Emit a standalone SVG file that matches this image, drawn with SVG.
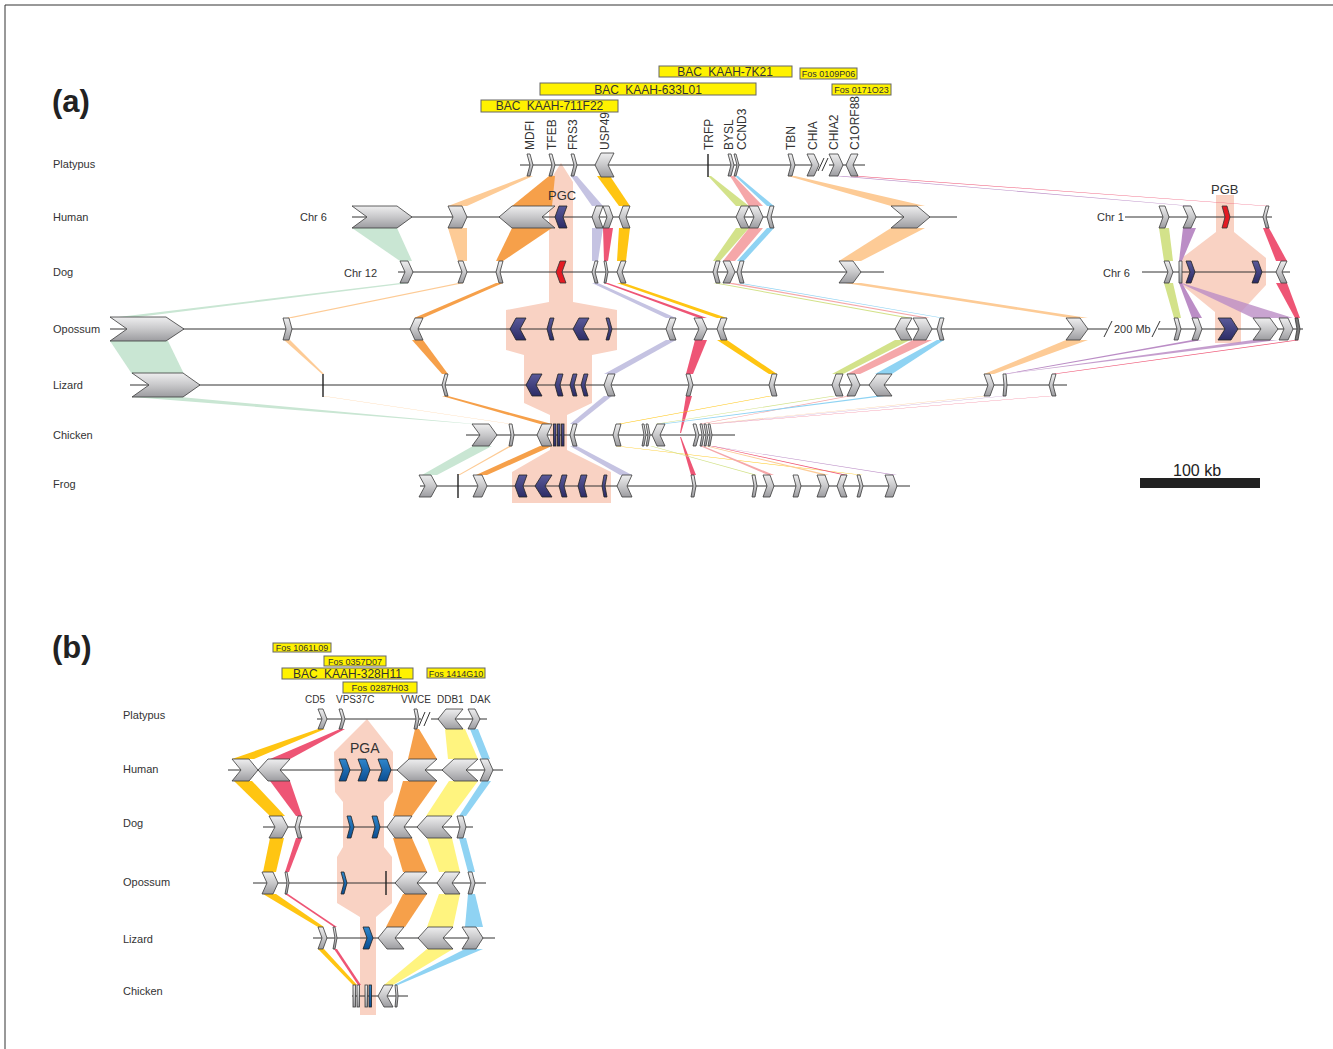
<svg xmlns="http://www.w3.org/2000/svg" width="1333" height="1049" viewBox="0 0 1333 1049">
<defs>
<linearGradient id="gg" x1="0" y1="0" x2="0" y2="1"><stop offset="0" stop-color="#EEEEEF"/><stop offset="0.5" stop-color="#C8C8CA"/><stop offset="1" stop-color="#9C9CA0"/></linearGradient>
<linearGradient id="gn" x1="0" y1="0" x2="0" y2="1"><stop offset="0" stop-color="#5A5A9A"/><stop offset="1" stop-color="#2C2C66"/></linearGradient>
<linearGradient id="gb" x1="0" y1="0" x2="0" y2="1"><stop offset="0" stop-color="#2F86CC"/><stop offset="1" stop-color="#0B4E92"/></linearGradient>
<style>
text{font-family:"Liberation Sans",Arial,sans-serif;fill:#333}
.g{fill:url(#gg);stroke:#3a3a3a;stroke-width:0.8}
.n{fill:url(#gn);stroke:#222;stroke-width:0.8}
.b{fill:url(#gb);stroke:#222;stroke-width:0.8}
.r{fill:#E31B23;stroke:#333;stroke-width:0.8}
.dk{fill:#777;stroke:#333;stroke-width:0.8}
.ln{stroke:#333;stroke-width:1;fill:none}
.tk{stroke:#222;stroke-width:1.4}
.bac{fill:#FFF200;stroke:#666;stroke-width:1}
.bt{font-size:12px;word-spacing:3px}
.ft{font-size:9px}
.sp{font-size:11px}
.gl{font-size:12px}
.pk{fill:#F9D2C3}
.peach{fill:#FDCB96}.orange{fill:#F6A04A}.mint{fill:#C9E6D3}.lav{fill:#C5C3E2}.crim{fill:#EE5575}.gold{fill:#FFC512}.lime{fill:#D3E28A}.pink{fill:#F5A7A9}.sky{fill:#8FD3F3}.purp{fill:#BB8DC6}.yel{fill:#FFF47F}
</style>
</defs>
<rect width="1333" height="1049" fill="#fff"/>
<path d="M5,1049 V5 H1333" class="ln"/>

<g id="regions-a">
<polygon class="pk" points="561,163 573,182 573,302 617,310 617,350 592,355 592,403 567,415 567,450 611,472 611,503 512,503 512,472 550,450 550,415 524,403 524,355 506,350 506,310 549,302 549,182"/>
<polygon class="pk" points="1216,195 1234,195 1234,232 1266,258 1266,285 1241,312 1241,343 1215,343 1215,312 1182,285 1182,258 1216,232"/>
</g>

<g id="panel-a-labels">
<text x="52" y="112" style="font-size:31px;font-weight:bold;fill:#222">(a)</text>
<text class="sp" x="53" y="168">Platypus</text>
<text class="sp" x="53" y="221">Human</text>
<text class="sp" x="53" y="276">Dog</text>
<text class="sp" x="53" y="333">Opossum</text>
<text class="sp" x="53" y="389">Lizard</text>
<text class="sp" x="53" y="439">Chicken</text>
<text class="sp" x="53" y="488">Frog</text>
<text class="sp" x="300" y="221">Chr 6</text>
<text class="sp" x="344" y="277">Chr 12</text>
<text class="sp" x="1097" y="221">Chr 1</text>
<text class="sp" x="1103" y="277">Chr 6</text>
</g>

<g id="bacs-a">
<rect class="bac" x="659" y="66" width="133" height="11"/><text class="bt" x="725" y="76" text-anchor="middle">BAC KAAH-7K21</text>
<rect class="bac" x="800" y="68" width="57" height="11"/><text class="ft" x="828.5" y="77" text-anchor="middle">Fos 0109P06</text>
<rect class="bac" x="540" y="83" width="216" height="12"/><text class="bt" x="648" y="94" text-anchor="middle">BAC KAAH-633L01</text>
<rect class="bac" x="832" y="84" width="59" height="11"/><text class="ft" x="861.5" y="93" text-anchor="middle">Fos 0171O23</text>
<rect class="bac" x="481" y="100" width="137" height="12"/><text class="bt" x="549.5" y="110" text-anchor="middle">BAC KAAH-711F22</text>
</g>

<g id="genelabels-a" class="gl">
<text class="gl" transform="translate(534,150) rotate(-90)">MDFI</text>
<text class="gl" transform="translate(556,150) rotate(-90)">TFEB</text>
<text class="gl" transform="translate(577,150) rotate(-90)">FRS3</text>
<text class="gl" transform="translate(609,150) rotate(-90)">USP49</text>
<text class="gl" transform="translate(713,150) rotate(-90)">TRFP</text>
<text class="gl" transform="translate(733,150) rotate(-90)">BYSL</text>
<text class="gl" transform="translate(746,150) rotate(-90)">CCND3</text>
<text class="gl" transform="translate(795,150) rotate(-90)">TBN</text>
<text class="gl" transform="translate(817,150) rotate(-90)">CHIA</text>
<text class="gl" transform="translate(838,150) rotate(-90)">CHIA2</text>
<text class="gl" transform="translate(859,150) rotate(-90)">C1ORF88</text>
</g>

<g id="connectors-a">
<polygon class="peach" points="527,176 533,176 467,206 448,206"/>
<polygon class="peach" points="448,228 467,228 467,261 458,261"/>
<polygon class="peach" points="458,283 464,283 292,318 286,318"/>
<polygon class="peach" points="284,340 290,340 324,374 322,374"/>
<polygon class="peach" points="322,396 324,396 512,424 510,424"/>
<polygon class="peach" points="509,446 512,446 460,475 458,475"/>

<polygon class="orange" points="549,176 555,176 552,206 512,206"/>
<polygon class="orange" points="512,228 552,228 503,261 496,261"/>
<polygon class="orange" points="496,283 503,283 423,318 414,318"/>
<polygon class="orange" points="412,340 423,340 448,374 442,374"/>
<polygon class="orange" points="442,396 448,396 552,424 540,424"/>
<polygon class="orange" points="540,446 552,446 487,475 476,475"/>

<polygon class="mint" points="352,228 397,228 412,261 400,261"/>
<polygon class="mint" points="400,283 410,283 130,318 110,318"/>
<polygon class="mint" points="110,341 168,341 184,374 132,374"/>
<polygon class="mint" points="132,397 180,397 475,424 472,424"/>
<polygon class="mint" points="473,446 492,446 437,475 422,475"/>

<polygon class="lav" points="571,176 577,176 603,206 592,206"/>
<polygon class="lav" points="592,228 603,228 598,261 592,261"/>
<polygon class="lav" points="592,283 598,283 676,318 666,318"/>
<polygon class="lav" points="666,340 676,340 615,374 604,374"/>
<polygon class="lav" points="604,396 612,396 577,424 570,424"/>
<polygon class="lav" points="570,446 577,446 632,475 620,475"/>

<polygon class="crim" points="603,228 613,228 608,261 604,261"/>
<polygon class="crim" points="604,283 608,283 707,318 699,318"/>
<polygon class="crim" points="695,340 707,340 693,374 686,374"/>
<polygon class="crim" points="686,396 692,396 681,433 680,433"/>
<polygon class="crim" points="680,437 681,437 696,475 691,475"/>

<polygon class="gold" points="597,176 610,176 630,206 619,206"/>
<polygon class="gold" points="619,228 630,228 626,261 617,261"/>
<polygon class="gold" points="617,283 624,283 727,318 717,318"/>
<polygon class="gold" points="717,340 727,340 777,374 769,374"/>
<polygon class="gold" points="769,396 772,396 621,424 618,424"/>
<polygon class="gold" points="615,446 618,446 863,475 860,475"/>

<polygon class="lime" points="708,176 711,176 749,206 736,206"/>
<polygon class="lime" points="736,228 749,228 720,261 713,261"/>
<polygon class="lime" points="713,283 718,283 912,318 906,318"/>
<polygon class="lime" points="895,340 910,340 843,374 832,374"/>
<polygon class="lime" points="832,396 836,396 658,424 655,424"/>
<polygon class="lime" points="650,446 652,446 757,475 754,475"/>
<polygon class="lime" points="1159,228 1169,228 1173,261 1164,261"/>
<polygon class="lime" points="1164,283 1173,283 1181,318 1174,318"/>

<polygon class="pink" points="730,176 734,176 763,206 749,206"/>
<polygon class="pink" points="749,228 763,228 735,261 723,261"/>
<polygon class="pink" points="725,283 733,283 930,318 924,318"/>
<polygon class="pink" points="913,340 932,340 860,374 847,374"/>
<polygon class="pink" points="847,396 851,396 702,424 699,424"/>
<polygon class="pink" points="700,446 703,446 774,475 768,475"/>

<polygon class="sky" points="735,176 738,176 774,206 767,206"/>
<polygon class="sky" points="767,228 774,228 744,261 737,261"/>
<polygon class="sky" points="737,283 741,283 944,318 941,318"/>
<polygon class="sky" points="937,340 944,340 892,374 875,374"/>
<polygon class="sky" points="875,396 885,396 665,424 660,424"/>

<polygon class="peach" points="788,176 795,176 925,206 891,206"/>
<polygon class="peach" points="891,228 925,228 861,261 839,261"/>
<polygon class="peach" points="845,283 861,283 1088,318 1070,318"/>
<polygon class="peach" points="1066,340 1088,340 994,374 984,374"/>
<polygon class="peach" points="984,396 988,396 708,424 705,424"/>
<polygon class="peach" points="705,446 708,446 829,475 823,475"/>

<polygon class="purp" points="835,176 843,176 1192,206 1188,206"/>
<polygon class="purp" points="1183,228 1196,228 1182,261 1179,261"/>
<polygon class="purp" points="1179,283 1182,283 1202,318 1192,318"/>
<polygon class="purp" points="1180,283 1182,283 1293,318 1253,318" opacity="0.8"/>
<polygon class="purp" points="1192,340 1202,340 1007,374 1004,374"/>
<polygon class="purp" points="1253,340 1278,340 1007,374 1005,374" opacity="0.85"/>
<polygon class="purp" points="1003,396 1006,396 712,424 710,424"/>
<polygon class="purp" points="710,446 712,446 897,475 893,475"/>

<polygon class="crim" points="850,176 858,176 1269,206 1265,206"/>
<polygon class="crim" points="1263,228 1269,228 1287,261 1276,261"/>
<polygon class="crim" points="1276,283 1287,283 1300,318 1295,318"/>
<polygon class="crim" points="1295,340 1300,340 1056,374 1052,374"/>
<polygon class="crim" points="1049,396 1052,396 713,424 711,424"/>
<polygon class="crim" points="711,446 713,446 847,475 843,475"/>
</g>

<g id="region-labels-a">
<text x="548" y="200" style="font-size:13px">PGC</text>
<text x="1211" y="194" style="font-size:13px">PGB</text>
</g>

<g id="platypus-a">
<path class="ln" d="M520,165 H818 M829,165 H865"/>
<path class="ln" d="M818,171 L824,158 M822,171 L828,158"/>
<polygon class="g" points="527,154 530,154 533,165 530,176 527,176 530,165"/>
<polygon class="g" points="549,154 552,154 555,165 552,176 549,176 552,165"/>
<polygon class="g" points="571,154 574,154 577,165 574,176 571,176 574,165"/>
<polygon class="g" points="614,153 601,153 595,165 601,177 614,177 608,165"/>
<line class="tk" x1="708" y1="154" x2="708" y2="177"/>
<polygon class="g" points="728,154 731,154 734,165 731,176 728,176 731,165"/>
<polygon class="g" points="734,154 736,154 739,165 736,176 734,176 737,165"/>
<polygon class="g" points="788,154 792,154 795,165 792,176 788,176 791,165"/>
<polygon class="g" points="807,154 814,154 819,165 814,176 807,176 812,165"/>
<polygon class="g" points="829,154 838,154 843,165 838,176 829,176 834,165"/>
<polygon class="g" points="858,154 851,154 846,165 851,176 858,176 853,165"/>
</g>

<g id="human-a">
<path class="ln" d="M352,217 H957 M1125,217 H1272"/>
<polygon class="g" points="352,206 397,206 412,217 397,228 352,228 367,217"/>
<polygon class="g" points="448,206 462,206 467,217 462,228 448,228 453,217"/>
<polygon class="g" points="555,206 512,206 499,217 512,228 555,228 542,217"/>
<polygon class="n" points="567,206 559,206 555,217 559,228 567,228 563,217"/>
<polygon class="g" points="603,206 596,206 592,217 596,228 603,228 599,217"/>
<polygon class="g" points="603,206 609,206 613,217 609,228 603,228 607,217"/>
<polygon class="g" points="630,206 623,206 619,217 623,228 630,228 626,217"/>
<polygon class="g" points="749,206 741,206 736,217 741,228 749,228 744,217"/>
<polygon class="g" points="749,206 758,206 763,217 758,228 749,228 754,217"/>
<polygon class="g" points="774,206 770,206 767,217 770,228 774,228 771,217"/>
<polygon class="g" points="891,206 917,206 930,217 917,228 891,228 904,217"/>
<polygon class="g" points="1159,206 1165,206 1169,217 1165,228 1159,228 1163,217"/>
<polygon class="g" points="1183,206 1191,206 1196,217 1191,228 1183,228 1188,217"/>
<polygon class="r" points="1222,206 1227,206 1230,217 1227,228 1222,228 1225,217"/>
<polygon class="g" points="1269,206 1266,206 1263,217 1266,228 1269,228 1266,217"/>
</g>

<g id="dog-a">
<path class="ln" d="M398,272 H884 M1142,272 H1290"/>
<polygon class="g" points="400,261 408,261 413,272 408,283 400,283 405,272"/>
<polygon class="g" points="458,261 463,261 467,272 463,283 458,283 462,272"/>
<polygon class="g" points="503,261 499,261 496,272 499,283 503,283 500,272"/>
<polygon class="r" points="566,261 560,261 556,272 560,283 566,283 562,272"/>
<polygon class="g" points="598,261 595,261 592,272 595,283 598,283 595,272"/>
<polygon class="g" points="604,261 606,261 608,272 606,283 604,283 606,272"/>
<polygon class="g" points="626,261 621,261 617,272 621,283 626,283 622,272"/>
<polygon class="g" points="720,261 716,261 713,272 716,283 720,283 717,272"/>
<polygon class="g" points="723,261 730,261 735,272 730,283 723,283 728,272"/>
<polygon class="g" points="744,261 740,261 737,272 740,283 744,283 741,272"/>
<polygon class="g" points="839,261 853,261 861,272 853,283 839,283 847,272"/>
<polygon class="g" points="1164,261 1169,261 1173,272 1169,283 1164,283 1168,272"/>
<polygon class="g" points="1179,261 1182,261 1182,283 1179,283"/>
<polygon class="n" points="1186,261 1191,261 1195,272 1191,283 1186,283 1190,272"/>
<polygon class="n" points="1252,261 1258,261 1262,272 1258,283 1252,283 1256,272"/>
<polygon class="g" points="1287,261 1281,261 1276,272 1281,283 1287,283 1282,272"/>
</g>

<g id="opossum-a">
<path class="ln" d="M110,329 H1107 M1158,329 H1303"/>
<path class="ln" d="M1104,337 L1112,321 M1152,337 L1160,321"/>
<text x="1114" y="333" style="font-size:11px">200 Mb</text>
<polygon class="g" points="110,317 166,317 184,329 166,341 110,341 127,329"/>
<polygon class="g" points="283,318 289,318 292,329 289,340 283,340 286,329"/>
<polygon class="g" points="423,318 415,318 410,329 415,340 423,340 418,329"/>
<polygon class="n" points="526,318 516,318 510,329 516,340 526,340 520,329"/>
<polygon class="n" points="554,318 550,318 547,329 550,340 554,340 551,329"/>
<polygon class="n" points="589,318 579,318 573,329 579,340 589,340 583,329"/>
<polygon class="n" points="606,318 609,318 612,329 609,340 606,340 609,329"/>
<polygon class="g" points="676,318 670,318 666,329 670,340 676,340 672,329"/>
<polygon class="g" points="694,318 702,318 707,329 702,340 694,340 699,329"/>
<polygon class="g" points="727,318 721,318 717,329 721,340 727,340 723,329"/>
<polygon class="g" points="912,318 901,318 895,329 901,340 912,340 906,329"/>
<polygon class="g" points="913,318 926,318 932,329 926,340 913,340 919,329"/>
<polygon class="g" points="944,318 940,318 937,329 940,340 944,340 941,329"/>
<polygon class="g" points="1066,318 1080,318 1088,329 1080,340 1066,340 1074,329"/>
<polygon class="g" points="1174,318 1178,318 1181,329 1178,340 1174,340 1177,329"/>
<polygon class="g" points="1192,318 1198,318 1202,329 1198,340 1192,340 1196,329"/>
<polygon class="n" points="1218,318 1231,318 1238,329 1231,340 1218,340 1225,329"/>
<polygon class="g" points="1253,318 1270,318 1278,329 1270,340 1253,340 1261,329"/>
<polygon class="g" points="1279,318 1288,318 1293,329 1288,340 1279,340 1284,329"/>
<polygon class="dk" points="1295,318 1298,318 1300,329 1298,340 1295,340 1297,329"/>
</g>

<g id="lizard-a">
<path class="ln" d="M130,385 H1067"/>
<polygon class="g" points="132,373 183,373 200,385 183,397 132,397 149,385"/>
<line class="tk" x1="323" y1="374" x2="323" y2="397"/>
<polygon class="g" points="448,374 445,374 442,385 445,396 448,396 445,385"/>
<polygon class="n" points="542,374 532,374 526,385 532,396 542,396 536,385"/>
<polygon class="n" points="563,374 558,374 555,385 558,396 563,396 560,385"/>
<polygon class="n" points="577,374 573,374 570,385 573,396 577,396 574,385"/>
<polygon class="n" points="588,374 584,374 581,385 584,396 588,396 585,385"/>
<polygon class="g" points="615,374 608,374 604,385 608,396 615,396 611,385"/>
<polygon class="g" points="686,374 690,374 693,385 690,396 686,396 689,385"/>
<polygon class="g" points="777,374 772,374 769,385 772,396 777,396 774,385"/>
<polygon class="g" points="843,374 836,374 832,385 836,396 843,396 839,385"/>
<polygon class="g" points="847,374 855,374 860,385 855,396 847,396 852,385"/>
<polygon class="g" points="892,374 877,374 869,385 877,396 892,396 884,385"/>
<polygon class="g" points="984,374 990,374 994,385 990,396 984,396 988,385"/>
<polygon class="g" points="1003,374 1006,374 1007,385 1006,396 1003,396 1004,385"/>
<polygon class="g" points="1056,374 1052,374 1049,385 1052,396 1056,396 1053,385"/>
</g>

<g id="chicken-a">
<path class="ln" d="M466,435 H735"/>
<polygon class="g" points="472,424 489,424 497,435 489,446 472,446 480,435"/>
<polygon class="g" points="509,424 512,424 514,435 512,446 509,446 511,435"/>
<polygon class="g" points="552,424 542,424 537,435 542,446 552,446 547,435"/>
<rect class="n" x="553.5" y="424" width="2.5" height="22"/>
<rect class="n" x="557.5" y="424" width="2.5" height="22"/>
<rect class="n" x="561.5" y="424" width="2.5" height="22"/>
<polygon class="g" points="577,424 573,424 570,435 573,446 577,446 574,435"/>
<polygon class="g" points="621,424 616,424 613,435 616,446 621,446 618,435"/>
<polygon class="g" points="642,424 644,424 646,435 644,446 642,446 644,435"/>
<polygon class="g" points="646,424 648,424 650,435 648,446 646,446 648,435"/>
<polygon class="g" points="665,424 657,424 652,435 657,446 665,446 660,435"/>
<polygon class="g" points="693,424 696,424 699,435 696,446 693,446 696,435"/>
<polygon class="g" points="700,424 702,424 704,435 702,446 700,446 702,435"/>
<polygon class="g" points="704,424 706,424 708,435 706,446 704,446 706,435"/>
<polygon class="g" points="708,424 710,424 712,435 710,446 708,446 710,435"/>
</g>

<g id="frog-a">
<path class="ln" d="M420,486 H910"/>
<polygon class="g" points="419,475 431,475 437,486 431,497 419,497 425,486"/>
<line class="tk" x1="458" y1="474" x2="458" y2="498"/>
<polygon class="g" points="473,475 482,475 487,486 482,497 473,497 478,486"/>
<polygon class="n" points="527,475 519,475 515,486 519,497 527,497 523,486"/>
<polygon class="n" points="552,475 542,475 535,486 542,497 552,497 545,486"/>
<polygon class="n" points="567,475 562,475 559,486 562,497 567,497 564,486"/>
<polygon class="n" points="587,475 581,475 578,486 581,497 587,497 584,486"/>
<polygon class="n" points="607,475 604,475 602,486 604,497 607,497 605,486"/>
<polygon class="g" points="632,475 622,475 617,486 622,497 632,497 627,486"/>
<polygon class="g" points="691,475 694,475 696,486 694,497 691,497 693,486"/>
<polygon class="g" points="752,475 755,475 757,486 755,497 752,497 754,486"/>
<polygon class="g" points="763,475 770,475 774,486 770,497 763,497 767,486"/>
<polygon class="g" points="793,475 798,475 801,486 798,497 793,497 796,486"/>
<polygon class="g" points="817,475 825,475 829,486 825,497 817,497 821,486"/>
<polygon class="g" points="847,475 841,475 837,486 841,497 847,497 843,486"/>
<polygon class="g" points="857,475 860,475 863,486 860,497 857,497 860,486"/>
<polygon class="g" points="885,475 893,475 897,486 893,497 885,497 889,486"/>
</g>

<g id="scalebar">
<text x="1173" y="476" style="font-size:16px;fill:#222">100 kb</text>
<rect x="1140" y="478" width="120" height="10" fill="#222"/>
</g>

<g id="regions-b">
<polygon class="pk" points="367,719 393,752 393,792 384,802 384,847 392,857 392,903 376,917 376,1015 360,1015 360,917 337,903 337,857 343,847 343,802 335,792 334,752"/>
</g>

<g id="panel-b-labels">
<text x="52" y="658" style="font-size:31px;font-weight:bold;fill:#222">(b)</text>
<text class="sp" x="123" y="719">Platypus</text>
<text class="sp" x="123" y="773">Human</text>
<text class="sp" x="123" y="827">Dog</text>
<text class="sp" x="123" y="886">Opossum</text>
<text class="sp" x="123" y="943">Lizard</text>
<text class="sp" x="123" y="995">Chicken</text>
<text x="350" y="753" style="font-size:14px">PGA</text>
<text x="305" y="703" style="font-size:10px">CD5</text>
<text x="336" y="703" style="font-size:10px">VPS37C</text>
<text x="401" y="703" style="font-size:10px">VWCE</text>
<text x="437" y="703" style="font-size:10px">DDB1</text>
<text x="470" y="703" style="font-size:10px">DAK</text>
</g>

<g id="bacs-b">
<rect class="bac" x="273" y="643" width="58" height="9"/><text class="ft" x="302" y="651" text-anchor="middle">Fos 1061L09</text>
<rect class="bac" x="324" y="656" width="62" height="10"/><text class="ft" x="355" y="664.5" text-anchor="middle">Fos 0357D07</text>
<rect class="bac" x="282" y="668" width="131" height="11"/><text class="bt" x="347.5" y="678" text-anchor="middle">BAC KAAH-328H11</text>
<rect class="bac" x="427" y="668" width="58" height="10"/><text class="ft" x="456" y="676.5" text-anchor="middle">Fos 1414G10</text>
<rect class="bac" x="343" y="682" width="74" height="11"/><text x="380" y="691" text-anchor="middle" style="font-size:9.5px">Fos 0287H03</text>
</g>

<g id="connectors-b">
<polygon class="gold" points="318,729 325,729 254,759 232,759"/>
<polygon class="gold" points="234,781 252,781 285,816 270,816"/>
<polygon class="gold" points="270,838 284,838 276,872 263,872"/>
<polygon class="gold" points="263,894 276,894 324,927 318,927"/>
<polygon class="gold" points="318,949 324,949 357,985 353,985"/>
<polygon class="crim" points="340,729 345,729 290,759 270,759"/>
<polygon class="crim" points="270,781 290,781 302,816 296,816"/>
<polygon class="crim" points="296,838 302,838 289,872 285,872"/>
<polygon class="crim" points="285,894 288,894 337,927 334,927"/>
<polygon class="crim" points="334,949 337,949 361,985 358,985"/>
<polygon class="orange" points="415,729 419,729 437,759 408,759"/>
<polygon class="orange" points="403,781 437,781 412,816 393,816"/>
<polygon class="orange" points="393,838 412,838 427,872 403,872"/>
<polygon class="orange" points="403,894 427,894 405,927 386,927"/>
<polygon class="yel" points="445,729 465,729 478,759 448,759"/>
<polygon class="yel" points="449,781 478,781 452,816 426,816"/>
<polygon class="yel" points="427,838 452,838 460,872 439,872"/>
<polygon class="yel" points="439,894 460,894 453,927 427,927"/>
<polygon class="yel" points="427,949 453,949 393,985 384,985"/>
<polygon class="sky" points="470,729 478,729 490,759 482,759"/>
<polygon class="sky" points="482,781 491,781 466,816 459,816"/>
<polygon class="sky" points="459,838 466,838 475,872 468,872"/>
<polygon class="sky" points="468,894 475,894 483,927 465,927"/>
<polygon class="sky" points="465,949 483,949 398,985 394,985"/>
</g>

<g id="platypus-b">
<path class="ln" d="M317,719 H421 M431,719 H487"/>
<path class="ln" d="M419,726 L425,712 M424,726 L430,712"/>
<polygon class="g" points="318,709 323,709 327,719 323,729 318,729 322,719"/>
<polygon class="g" points="339,709 342,709 345,719 342,729 339,729 342,719"/>
<polygon class="g" points="414,709 417,709 419,719 417,729 414,729 416,719"/>
<polygon class="g" points="463,709 446,709 438,719 446,729 463,729 455,719"/>
<polygon class="g" points="468,709 475,709 480,719 475,729 468,729 473,719"/>
</g>

<g id="human-b">
<path class="ln" d="M228,770 H503"/>
<polygon class="g" points="232,759 249,759 258,770 249,781 232,781 241,770"/>
<polygon class="g" points="290,759 268,759 258,770 268,781 290,781 280,770"/>
<polygon class="b" points="339,759 346,759 350,770 346,781 339,781 343,770"/>
<polygon class="b" points="358,759 366,759 370,770 366,781 358,781 362,770"/>
<polygon class="b" points="378,759 387,759 391,770 387,781 378,781 382,770"/>
<polygon class="g" points="437,759 409,759 397,770 409,781 437,781 425,770"/>
<polygon class="g" points="478,759 454,759 442,770 454,781 478,781 466,770"/>
<polygon class="g" points="480,759 488,759 493,770 488,781 480,781 485,770"/>
</g>

<g id="dog-b">
<path class="ln" d="M263,827 H473"/>
<polygon class="g" points="269,816 282,816 288,827 282,838 269,838 275,827"/>
<polygon class="g" points="302,816 298,816 295,827 298,838 302,838 299,827"/>
<polygon class="b" points="347,816 351,816 354,827 351,838 347,838 350,827"/>
<polygon class="b" points="372,816 377,816 380,827 377,838 372,838 375,827"/>
<polygon class="g" points="412,816 395,816 387,827 395,838 412,838 404,827"/>
<polygon class="g" points="452,816 427,816 417,827 427,838 452,838 442,827"/>
<polygon class="g" points="457,816 463,816 466,827 463,838 457,838 460,827"/>
</g>

<g id="opossum-b">
<path class="ln" d="M253,883 H486"/>
<polygon class="g" points="262,872 273,872 278,883 273,894 262,894 267,883"/>
<polygon class="g" points="285,872 287,872 289,883 287,894 285,894 287,883"/>
<polygon class="b" points="341,872 344,872 347,883 344,894 341,894 344,883"/>
<line class="tk" x1="386" y1="871" x2="386" y2="895"/>
<polygon class="g" points="427,872 405,872 395,883 405,894 427,894 417,883"/>
<polygon class="g" points="460,872 445,872 437,883 445,894 460,894 452,883"/>
<polygon class="g" points="468,872 472,872 475,883 472,894 468,894 471,883"/>
</g>

<g id="lizard-b">
<path class="ln" d="M313,938 H495"/>
<polygon class="g" points="318,927 323,927 327,938 323,949 318,949 322,938"/>
<polygon class="g" points="333,927 335,927 337,938 335,949 333,949 335,938"/>
<polygon class="b" points="363,927 369,927 373,938 369,949 363,949 367,938"/>
<polygon class="g" points="404,927 387,927 378,938 387,949 404,949 395,938"/>
<polygon class="g" points="453,927 428,927 418,938 428,949 453,949 443,938"/>
<polygon class="g" points="462,927 476,927 483,938 476,949 462,949 469,938"/>
</g>

<g id="chicken-b">
<path class="ln" d="M352,996 H408"/>
<rect class="g" x="353" y="985" width="2.5" height="22"/>
<rect class="g" x="357" y="985" width="2.5" height="22"/>
<rect class="g" x="365" y="985" width="2.5" height="22"/>
<rect class="b" x="369" y="985" width="2.5" height="22"/>
<polygon class="g" points="393,985 384,985 378,996 384,1007 393,1007 387,996"/>
<polygon class="g" points="395,985 397,985 398,996 397,1007 395,1007 396,996"/>
</g>
</svg>
